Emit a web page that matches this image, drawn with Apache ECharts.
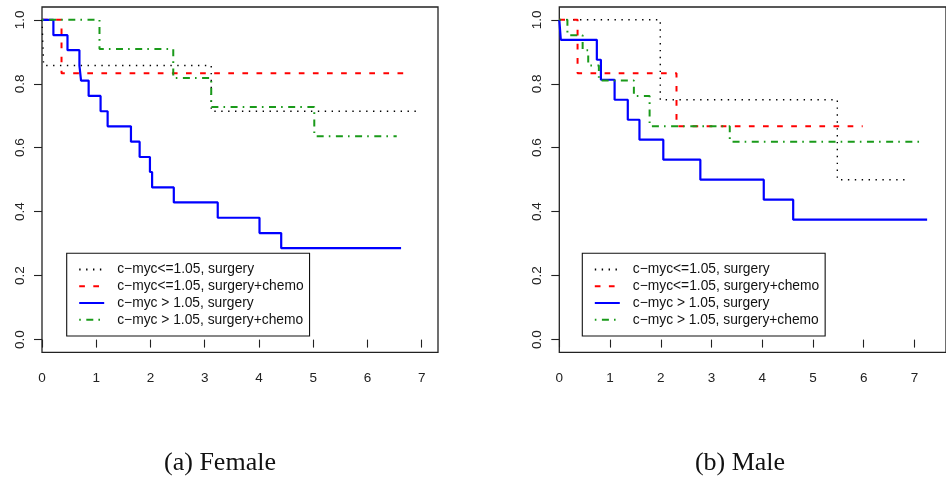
<!DOCTYPE html>
<html><head><meta charset="utf-8">
<script src="https://cdn.jsdelivr.net/npm/echarts@6/dist/echarts.min.js"></script>
<style>html,body{margin:0;padding:0;background:#fff}#c{width:946px;height:480px}</style>
</head><body><div id="c"></div>
<script>
// ---- labels ----
const seriesNames = ['c\u2212myc<=1.05, surgery', 'c\u2212myc<=1.05, surgery+chemo', 'c\u2212myc > 1.05, surgery', 'c\u2212myc > 1.05, surgery+chemo'];
const xTicks = [0, 1, 2, 3, 4, 5, 6, 7];
const yTicks = [0, 0.2, 0.4, 0.6, 0.8, 1.0];
const captions = ['(a) Female', '(b) Male'];

// ---- Female (a): times and survival ----
const femLowSurgT   = [0, 0.03, 3.12, 6.93];
const femLowSurgS   = [1, 0.857, 0.714, 0.714];
const femLowChemoT  = [0, 0.36, 6.75];
const femLowChemoS  = [1, 0.833, 0.833];
const femHighSurgT  = [0, 0.21, 0.47, 0.69, 0.72, 0.86, 1.08, 1.21, 1.64, 1.80, 1.99, 2.03, 2.43, 3.24, 4.01, 4.41, 6.62];
const femHighSurgS  = [1, 0.952, 0.905, 0.857, 0.810, 0.762, 0.714, 0.667, 0.619, 0.571, 0.524, 0.476, 0.429, 0.381, 0.333, 0.286, 0.286];
const femHighChemoT = [0, 1.06, 2.42, 3.12, 5.02, 6.54];
const femHighChemoS = [1, 0.909, 0.818, 0.727, 0.636, 0.636];

// ---- Male (b): times and survival ----
const maleLowSurgT   = [0, 1.99, 5.48, 6.89];
const maleLowSurgS   = [1, 0.75, 0.5, 0.5];
const maleLowChemoT  = [0, 0.36, 2.31, 5.98];
const maleLowChemoS  = [1, 0.833, 0.667, 0.667];
const maleHighSurgT  = [0, 0.03, 0.74, 0.82, 1.09, 1.35, 1.58, 2.05, 2.78, 4.03, 4.61, 7.25];
const maleHighSurgS  = [1, 0.9375, 0.875, 0.8125, 0.75, 0.6875, 0.625, 0.5625, 0.5, 0.4375, 0.375, 0.375];
const maleHighChemoT = [0, 0.16, 0.46, 0.57, 0.78, 1.47, 1.78, 3.36, 7.13];
const maleHighChemoS = [1, 0.952, 0.905, 0.857, 0.810, 0.762, 0.667, 0.619, 0.619];

const styles = [
  {color: '#000000', width: 1.4, type: [1.4, 5.5]},
  {color: '#ff0000', width: 2, type: [5.7, 8.4]},
  {color: '#0000ff', width: 2.2, type: 'solid'},
  {color: '#1a9a1a', width: 2, type: [1.6, 5.5, 7, 5.1]}
];

const zip = (t, s) => t.map((v, i) => [v, s[i]]);
const panels = [
  [zip(femLowSurgT, femLowSurgS), zip(femLowChemoT, femLowChemoS), zip(femHighSurgT, femHighSurgS), zip(femHighChemoT, femHighChemoS)],
  [zip(maleLowSurgT, maleLowSurgS), zip(maleLowChemoT, maleLowChemoS), zip(maleHighSurgT, maleHighSurgS), zip(maleHighChemoT, maleHighChemoS)]
];

const FONT = '"Liberation Sans", Arial, sans-serif';
const series = [];
panels.forEach((p, gi) => {
  p.forEach((d, k) => {
    series.push({
      type: 'line', name: seriesNames[k], xAxisIndex: gi, yAxisIndex: gi,
      step: 'end', data: d, symbol: 'none', showSymbol: false,
      lineStyle: {color: styles[k].color, width: styles[k].width, type: styles[k].type},
      itemStyle: {color: styles[k].color},
      emphasis: {disabled: true}
    });
  });
});

const mkX = (gi, max) => ({
  gridIndex: gi, type: 'value', min: 0, max: max,
  axisLine: {show: false},
  splitLine: {show: false},
  axisTick: {show: true, length: 8, customValues: xTicks, lineStyle: {color: '#222', width: 1.1}},
  axisLabel: {customValues: xTicks, margin: 19, color: '#222', fontSize: 13.5, fontFamily: FONT, formatter: v => String(v)}
});
const mkY = (gi) => ({
  gridIndex: gi, type: 'value', min: -0.04, max: 1.04,
  axisLine: {show: false},
  splitLine: {show: false},
  axisTick: {show: true, length: 8, customValues: yTicks, lineStyle: {color: '#222', width: 1.1}},
  axisLabel: {customValues: yTicks, rotate: 90, margin: 15, color: '#222', fontSize: 13.5, fontFamily: FONT, formatter: v => v.toFixed(1)}
});
const mkLegend = (left) => ({
  data: seriesNames, orient: 'vertical', left: left, top: 253.3,
  itemWidth: 25, itemHeight: 14, itemGap: 2.7,
  padding: [9.3, 6, 9.3, 11.5],
  borderColor: '#111', borderWidth: 1.1, backgroundColor: '#fff',
  selectedMode: false,
  itemStyle: {opacity: 0, borderWidth: 0},
  textStyle: {fontSize: 13.8, fontFamily: FONT, color: '#111', padding: [0, 0, 0, 8]}
});

const chart = echarts.init(document.getElementById('c'), null, {renderer: 'canvas'});
chart.setOption({
  animation: false,
  backgroundColor: '#fff',
  grid: [
    {left: 42, top: 7, width: 396, height: 345.4, show: true, borderColor: '#222', borderWidth: 1.3, containLabel: false},
    {left: 559.3, top: 7, width: 400, height: 345.4, show: true, borderColor: '#222', borderWidth: 1.3, containLabel: false}
  ],
  xAxis: [mkX(0, 396 / 54.24), mkX(1, 400 / 52.48)],
  yAxis: [mkY(0), mkY(1)],
  legend: [mkLegend(66.7), mkLegend(582.3)],
  series: series,
  graphic: [
    {type: 'text', x: 220, y: 463, style: {text: captions[0], align: 'center', verticalAlign: 'middle', font: '26px "Liberation Serif", serif', fill: '#111'}},
    {type: 'text', x: 740, y: 463, style: {text: captions[1], align: 'center', verticalAlign: 'middle', font: '26px "Liberation Serif", serif', fill: '#111'}}
  ]
});
</script></body></html>
